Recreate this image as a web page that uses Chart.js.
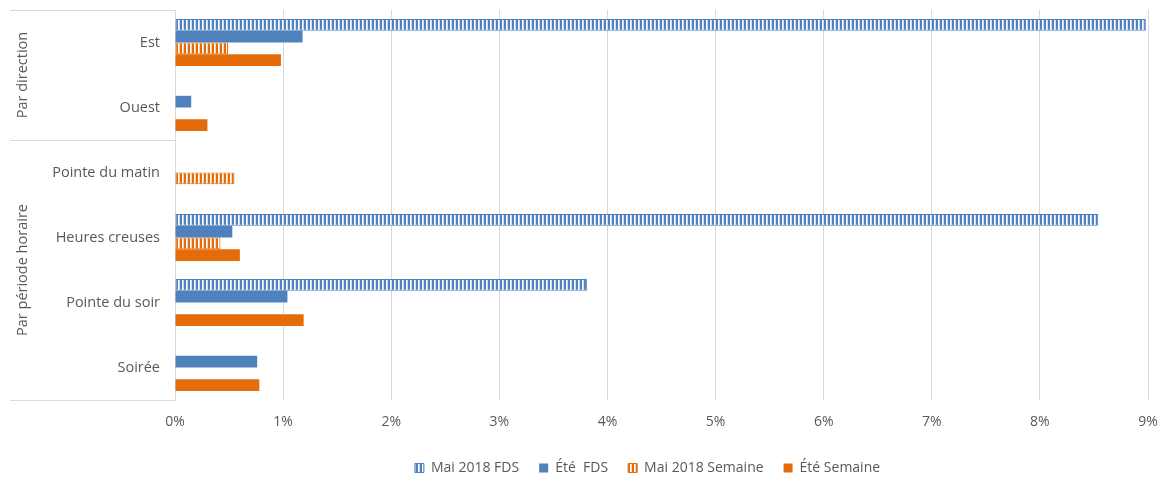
<!DOCTYPE html>
<html><head><meta charset="utf-8">
<script src="https://cdn.jsdelivr.net/npm/chart.js@4.4.1/dist/chart.umd.min.js"></script>
<style>html,body{margin:0;padding:0;background:#fff;} #wrap{width:1162px;height:480px;position:relative;}</style>
</head><body><div id="wrap"><canvas id="c"></canvas></div>
<script>
// ---- data ----
const categories = ["Est", "Ouest", "Pointe du matin", "Heures creuses", "Pointe du soir", "Soirée"];
const groupLabels = ["Par direction", "Par période horaire"];
const groupSizes = [2, 4];
const seriesNames = ["Mai 2018 FDS", "Été  FDS", "Mai 2018 Semaine", "Été Semaine"];
const mai2018FDS = [8.98, null, null, 8.54, 3.81, null];
const eteFDS = [1.18, 0.15, null, 0.53, 1.04, 0.76];
const mai2018Semaine = [0.49, null, 0.55, 0.42, null, null];
const eteSemaine = [0.98, 0.30, null, 0.60, 1.19, 0.78];
const xMin = 0, xMax = 9, xStep = 1;

// ---- styles ----
const BLUE = '#4F81BD';
const ORANGE = '#E46C0A';
const TEXT = '#595959';
const GRID = '#D9D9D9';
const FONT = "'Open Sans', sans-serif";

function stripes(color) {
  const c = document.createElement('canvas');
  c.width = 4; c.height = 4;
  const g = c.getContext('2d');
  g.fillStyle = '#ffffff'; g.fillRect(0, 0, 4, 4);
  g.fillStyle = color; g.fillRect(0, 0, 2, 4);
  g.globalAlpha = 0.3; g.fillRect(3, 0, 1, 4);
  return g.createPattern(c, 'repeat');
}

const groupPlugin = {
  id: 'groups',
  afterLayout(chart) {
    const l = chart.legend;
    if (l) {
      l.left -= 14; l.right -= 14;
      if (typeof l.adjustHitBoxes === 'function') l.adjustHitBoxes();
    }
  },
  afterDraw(chart) {
    const { ctx, chartArea, scales: { y } } = chart;
    const x0 = 10;
    const bounds = [chartArea.top];
    let idx = 0;
    groupSizes.forEach(n => {
      idx += n;
      bounds.push(idx < categories.length ? (y.getPixelForValue(idx - 1) + y.getPixelForValue(idx)) / 2 : chartArea.bottom);
    });
    ctx.save();
    ctx.strokeStyle = GRID; ctx.lineWidth = 1;
    bounds.forEach(b => {
      const yy = Math.round(b) + 0.5;
      ctx.beginPath(); ctx.moveTo(x0, yy); ctx.lineTo(chartArea.left + 1, yy); ctx.stroke();
    });
    ctx.fillStyle = TEXT;
    ctx.font = "14.5px " + FONT;
    ctx.textAlign = 'center'; ctx.textBaseline = 'middle';
    groupLabels.forEach((t, i) => {
      const cy = (bounds[i] + bounds[i + 1]) / 2;
      ctx.save();
      ctx.translate(23, cy);
      ctx.rotate(-Math.PI / 2);
      ctx.fillText(t, 0, 0);
      ctx.restore();
    });
    ctx.restore();
  }
};

const solid = (label, data, color) => ({
  label, data, backgroundColor: color, borderColor: color, borderWidth: 0,
  categoryPercentage: 0.72, barPercentage: 1
});
const hatched = (label, data, color) => ({
  label, data, backgroundColor: stripes(color), borderColor: color, borderWidth: 1, borderSkipped: false,
  categoryPercentage: 0.72, barPercentage: 1
});

new Chart(document.getElementById('c'), {
  type: 'bar',
  data: {
    labels: categories,
    datasets: [
      hatched(seriesNames[0], mai2018FDS, BLUE),
      solid(seriesNames[1], eteFDS, BLUE),
      hatched(seriesNames[2], mai2018Semaine, ORANGE),
      solid(seriesNames[3], eteSemaine, ORANGE)
    ]
  },
  options: {
    indexAxis: 'y',
    responsive: true,
    maintainAspectRatio: false,
    animation: false,
    layout: { padding: { top: 10, right: 14, left: 0, bottom: 0 } },
    scales: {
      x: {
        min: xMin, max: xMax,
        ticks: { stepSize: xStep, callback: v => v + '%', color: TEXT, font: { family: FONT, size: 14 }, padding: 14 },
        grid: { color: GRID, drawTicks: false },
        border: { display: false },
        afterFit: s => { s.height = 41; s.paddingLeft = 0; s.paddingRight = 0; }
      },
      y: {
        ticks: { color: TEXT, font: { family: FONT, size: 14.5 }, padding: 15 },
        grid: { display: false, drawTicks: false },
        border: { display: false },
        afterFit: s => { s.width = 175; s.paddingTop = 0; s.paddingBottom = 0; }
      }
    },
    plugins: {
      legend: {
        position: 'bottom',
        fullSize: false,
        maxHeight: 39,
        labels: { boxWidth: 9, boxHeight: 9, padding: 20, color: TEXT, font: { family: FONT, size: 14 } }
      },
      tooltip: { enabled: false }
    }
  },
  plugins: [groupPlugin]
});
</script>
</body></html>
